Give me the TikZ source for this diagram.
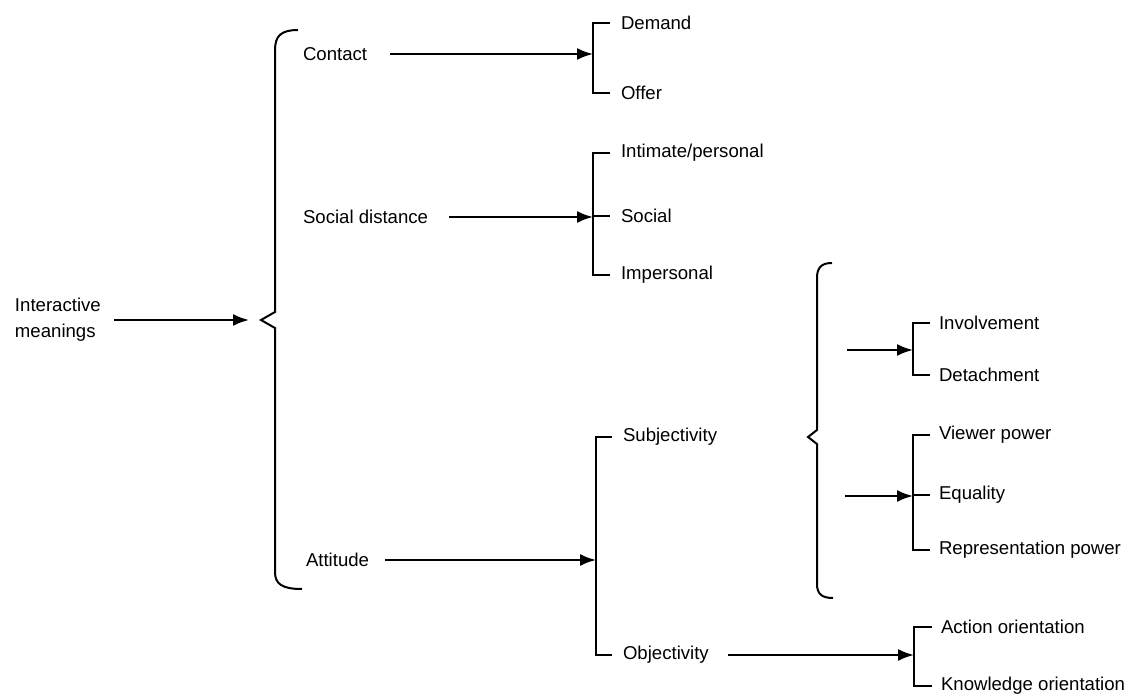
\documentclass[tikz,border=0pt]{standalone}
\usepackage{fontspec}
\setmainfont{Liberation Sans}
\usetikzlibrary{arrows.meta,calc}

\begin{document}
\begin{tikzpicture}[>={Latex[length=8pt,width=6pt]},line width=1pt,x=0.5pt,y=-0.5pt,
	lbl/.style={anchor=west,inner sep=0pt,font=\fontsize{9.3}{13}\selectfont}]

\useasboundingbox (0,0) rectangle (1136,695);

% first system
\node[lbl,align=left] (im) at (14,320) {Interactive\\meanings};

\draw (298,30) .. controls (281,30) and (275,36) .. (275,50)
	-- (275,312) -- (261,320) -- (275,328) -- (275,572)
	.. controls (275,584) and (282,589) .. (302,589);
\coordinate (braceA) at (249,320);
\draw[->] (im.east) ++(12,0) -- (braceA);

\node[lbl] (con) at (302,54) {Contact};
\node[lbl] (sd) at (302,217) {Social distance};
\node[lbl] (att) at (305,560) {Attitude};

% contact
\node[lbl] (dem) at (620,23) {Demand};
\node[lbl] (off) at (620,93) {Offer};
\draw (dem.west) ++(-10,0) -- ++(-17,0) |- ($(off.west)+(-10,0)$);
\coordinate (conB) at (593,54);
\draw[->] (con.east) ++(22,0) -- (conB);

% social distance
\node[lbl] (int) at (620,153) {Intimate/personal};
\node[lbl] (socl) at (620,216) {Social};
\node[lbl] (imp) at (620,275) {Impersonal};
\draw (int.west) ++(-10,0) -- ++(-17,0) |- ($(imp.west)+(-10,0)$);
\draw (socl.west) ++(-10,0) -- ++(-17,0);
\coordinate (sdB) at (593,217);
\draw[->] (sd.east) ++(20,0) -- (sdB);

% attitude
\node[lbl] (subj) at (622,437) {Subjectivity};
\node[lbl] (obj) at (622,655) {Objectivity};
\draw (subj.west) ++(-10,0) -- ++(-16,0) |- ($(obj.west)+(-10,0)$);
\coordinate (attB) at (596,560);
\draw[->] (att.east) ++(15,0) -- (attB);

% subjectivity
\draw (832,263) .. controls (821,263) and (817,268) .. (817,278)
	-- (817,430) -- (808,437) -- (817,444) -- (817,584)
	.. controls (817,594) and (822,598) .. (833,598);

\node[lbl] (inv) at (938,323) {Involvement};
\node[lbl] (det) at (938,375) {Detachment};
\draw (inv.west) ++(-8,0) -- ++(-17,0) |- ($(det.west)+(-8,0)$);
\coordinate (invA) at (847,350);
\coordinate (invB) at (913,350);
\draw[->] (invA) -- (invB);

\node[lbl] (vpow) at (938,435) {Viewer power};
\node[lbl] (equ) at (938,495) {Equality};
\node[lbl] (rpow) at (938,550) {Representation power};
\draw (vpow.west) ++(-8,0) -- ++(-17,0) |- ($(rpow.west)+(-8,0)$);
\draw (equ.west) ++(-8,0) -- ++(-17,0);
\coordinate (equA) at (845,496);
\coordinate (equB) at (913,496);
\draw[->] (equA) -- (equB);

% objectivity
\node[lbl] (act) at (940,627) {Action orientation};
\node[lbl] (know) at (940,686) {Knowledge orientation};
\draw (act.west) ++(-8,0) -- ++(-18,0) |- ($(know.west)+(-8,0)$);
\coordinate (objB) at (914,655);
\draw[->] (obj.east) ++(18,0) -- (objB);

\end{tikzpicture}
\end{document}
